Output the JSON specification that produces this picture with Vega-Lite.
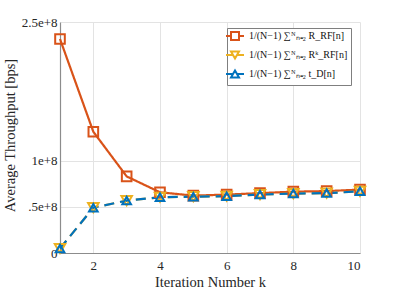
{
  "$schema": "https://vega.github.io/schema/vega-lite/v6.json",
  "width": 300,
  "height": 231,
  "autosize": {"type": "none"},
  "padding": {"left": 60, "top": 22, "right": 39, "bottom": 38},
  "background": "white",
  "config": {
    "view": {"stroke": null},
    "font": "Liberation Serif",
    "axis": {
      "labelFont": "Liberation Serif",
      "titleFont": "Liberation Serif",
      "labelFontSize": 13,
      "titleFontSize": 14.5,
      "titleFontWeight": "normal",
      "labelColor": "#262626",
      "titleColor": "#262626",
      "domainColor": "#8c8c8c",
      "domainWidth": 1.2,
      "gridColor": "#e3e3e3",
      "gridWidth": 1,
      "ticks": false
    }
  },
  "data": {
    "values": [
      {"k": 1, "series": "R", "value": 231600000},
      {"k": 2, "series": "R", "value": 131200000},
      {"k": 3, "series": "R", "value": 82900000},
      {"k": 4, "series": "R", "value": 65700000},
      {"k": 5, "series": "R", "value": 62100000},
      {"k": 6, "series": "R", "value": 63200000},
      {"k": 7, "series": "R", "value": 64800000},
      {"k": 8, "series": "R", "value": 66400000},
      {"k": 9, "series": "R", "value": 67000000},
      {"k": 10, "series": "R", "value": 68600000},
      {"k": 1, "series": "Rk", "value": 4900000},
      {"k": 2, "series": "Rk", "value": 49100000},
      {"k": 3, "series": "Rk", "value": 56700000},
      {"k": 4, "series": "Rk", "value": 60300000},
      {"k": 5, "series": "Rk", "value": 61000000},
      {"k": 6, "series": "Rk", "value": 61500000},
      {"k": 7, "series": "Rk", "value": 63200000},
      {"k": 8, "series": "Rk", "value": 64300000},
      {"k": 9, "series": "Rk", "value": 64800000},
      {"k": 10, "series": "Rk", "value": 66700000},
      {"k": 1, "series": "tD", "value": 4900000},
      {"k": 2, "series": "tD", "value": 49100000},
      {"k": 3, "series": "tD", "value": 56700000},
      {"k": 4, "series": "tD", "value": 60300000},
      {"k": 5, "series": "tD", "value": 61000000},
      {"k": 6, "series": "tD", "value": 61500000},
      {"k": 7, "series": "tD", "value": 63200000},
      {"k": 8, "series": "tD", "value": 64300000},
      {"k": 9, "series": "tD", "value": 64800000},
      {"k": 10, "series": "tD", "value": 66700000}
    ]
  },
  "encoding": {
    "x": {
      "field": "k",
      "type": "quantitative",
      "scale": {"domain": [1, 10], "nice": false, "zero": false},
      "axis": {
        "values": [2, 4, 6, 8, 10],
        "title": "Iteration Number k",
        "labelPadding": 6,
        "titleY": 29,
        "titleBaseline": "middle"
      }
    },
    "y": {
      "field": "value",
      "type": "quantitative",
      "scale": {"domain": [0, 250000000], "nice": false},
      "axis": {
        "values": [0, 50000000, 100000000, 250000000],
        "labelExpr": "datum.value == 0 ? '0' : datum.value == 50000000 ? '.5e+8' : datum.value == 100000000 ? '1e+8' : '2.5e+8'",
        "labelPadding": 3,
        "title": "Average Throughput [bps]",
        "titleX": -50,
        "titleY": 113,
        "titleBaseline": "middle"
      }
    },
    "color": {
      "field": "series",
      "type": "nominal",
      "scale": {"domain": ["R", "Rk", "tD"], "range": ["#D95319", "#EDB120", "#0072BD"]},
      "legend": {
        "title": null,
        "orient": "none",
        "legendX": 167,
        "legendY": 6,
        "strokeColor": "#7f7f7f",
        "fillColor": "white",
        "padding": 3,
        "rowPadding": 3,
        "labelFont": "Liberation Serif",
        "labelFontSize": 10,
        "labelColor": "#111",
        "labelOffset": 9,
        "symbolSize": 64,
        "labelExpr": "datum.value == 'R' ? '1/(N−1) ∑ᴺₙ₌₂ R_RF[n]' : datum.value == 'Rk' ? '1/(N−1) ∑ᴺₙ₌₂ Rᵏ_RF[n]' : '1/(N−1) ∑ᴺₙ₌₂ t_D[n]'",
        "encode": {
          "symbols": {
            "update": {
              "shape": {"signal": "datum.value == 'R' ? 'M-2.25,0H-1M1,0H2.25M-1,-1H1V1H-1Z' : datum.value == 'Rk' ? 'M-2.25,0H-0.5M0.5,0H2.25M-1,-0.866L1,-0.866L0,0.866Z' : 'M-2.25,0H-0.5M0.5,0H2.25M0,-0.866L1,0.866L-1,0.866Z'"},
              "fill": {"value": "transparent"},
              "strokeWidth": {"value": 2},
              "opacity": {"value": 1}
            }
          }
        }
      }
    }
  },
  "layer": [
    {
      "mark": {"type": "line", "strokeWidth": 2.2},
      "encoding": {
        "strokeDash": {
          "field": "series",
          "type": "nominal",
          "scale": {"domain": ["tD", "R", "Rk"], "range": [[10, 6], [1, 0], [10, 6]]},
          "legend": null
        }
      }
    },
    {
      "mark": {"type": "point", "filled": false, "strokeWidth": 2, "opacity": 1},
      "encoding": {
        "shape": {
          "field": "series",
          "type": "nominal",
          "scale": {"domain": ["tD", "Rk", "R"], "range": ["triangle-up", "triangle-down", "square"]},
          "legend": null
        },
        "size": {
          "field": "series",
          "type": "nominal",
          "scale": {"domain": ["Rk", "R", "tD"], "range": [110, 75, 110]},
          "legend": null
        }
      }
    }
  ]
}
